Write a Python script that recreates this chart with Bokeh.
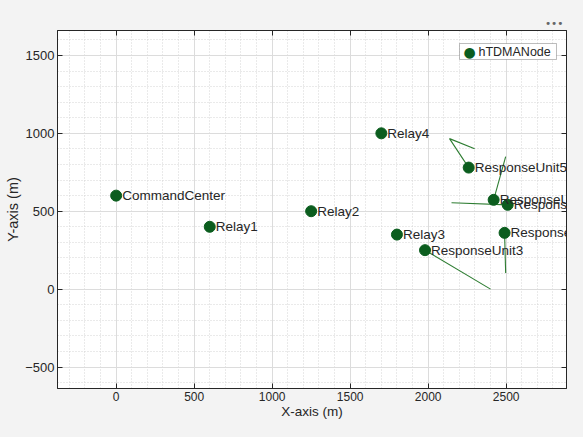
from bokeh.plotting import figure
from bokeh.models import (ColumnDataSource, Range1d, LinearAxis, Label, BoxAnnotation,
                          FixedTicker, GlobalInlineStyleSheet, Title)
from bokeh.core.properties import value
from bokeh.embed import file_html
from bokeh.resources import INLINE

# ---- data ----
node_names = ["CommandCenter", "Relay1", "Relay2", "Relay3", "Relay4",
              "ResponseUnit1", "ResponseUnit2", "ResponseUnit3", "ResponseUnit4", "ResponseUnit5"]
node_x = [0, 600, 1250, 1800, 1700, 2420, 2510, 1980, 2490, 2260]
node_y = [600, 400, 500, 350, 1000, 573, 541, 250, 361, 780]

path_xs = [[2260, 2137, 2298], [2420, 2497], [2510, 2150], [2490, 2497], [1980, 2400]]
path_ys = [[780, 966, 901], [573, 850], [541, 554], [361, 103], [250, 0]]

x_ticks = [0, 500, 1000, 1500, 2000, 2500]
y_ticks = [-500, 0, 500, 1000, 1500]
x_minor = list(range(-300, 2900, 100))
y_minor = list(range(-600, 1700, 100))
legend_label = "hTDMANode"
x_title = "X-axis (m)"
y_title = "Y-axis (m)"

BG = "#f3f3f3"
AX = "#262626"
NODE = "#0b5d1e"
PATH = "#2e7d32"
FONT = "Liberation Sans"

p = figure(width=567, height=421, output_backend="svg", toolbar_location=None,
           x_range=Range1d(-376, 2887), y_range=Range1d(-638, 1660),
           min_border_left=57, min_border_right=1, min_border_top=30, min_border_bottom=33,
           background_fill_color="white", border_fill_color=BG,
           outline_line_color=AX, outline_line_width=1)
p.stylesheets = [GlobalInlineStyleSheet(css=f"body {{ background: {BG}; }}")]

# axes styling
for ax in (p.xaxis[0], p.yaxis[0]):
    ax.major_tick_in = 5
    ax.major_tick_out = 0
    ax.minor_tick_in = 0
    ax.minor_tick_out = 0
    ax.axis_line_color = AX
    ax.major_tick_line_color = AX
    ax.major_label_text_color = AX
    ax.major_label_text_font = FONT
    ax.axis_label_text_color = AX
    ax.axis_label_text_font = FONT
    ax.axis_label_text_font_style = "normal"

p.xaxis[0].ticker = FixedTicker(ticks=x_ticks, minor_ticks=x_minor)
p.yaxis[0].ticker = FixedTicker(ticks=y_ticks, minor_ticks=y_minor)
p.xaxis[0].axis_label = x_title
p.yaxis[0].axis_label = y_title
p.xaxis[0].major_label_text_font_size = "12px"
p.xaxis[0].axis_label_text_font_size = "13.5px"
p.xaxis[0].major_label_standoff = 3
p.xaxis[0].axis_label_standoff = 0
p.yaxis[0].major_label_text_font_size = "13px"
p.yaxis[0].axis_label_text_font_size = "14.5px"
p.yaxis[0].major_label_standoff = 3
p.yaxis[0].axis_label_standoff = 1

# box axes on top and right
for loc, tk in (("above", x_ticks), ("right", y_ticks)):
    a = LinearAxis(ticker=FixedTicker(ticks=tk), major_tick_in=5, major_tick_out=0,
                   minor_tick_in=0, minor_tick_out=0, axis_line_color=AX,
                   major_tick_line_color=AX, major_label_standoff=0,
                   major_label_overrides={t: "" for t in tk})
    p.add_layout(a, loc)

# toolbar-like dots above the axes, right aligned
p.add_layout(Title(text="•••", align="right", text_font="DejaVu Sans",
                   text_font_size="10.5px", text_color="#666666",
                   text_font_style="normal", offset=3, standoff=4), "above")

# grids
p.xgrid.ticker = FixedTicker(ticks=x_ticks, minor_ticks=x_minor)
p.ygrid.ticker = FixedTicker(ticks=y_ticks, minor_ticks=y_minor)
for g in (p.xgrid[0], p.ygrid[0]):
    g.grid_line_color = "#dcdcdc"
    g.grid_line_width = 1
    g.minor_grid_line_color = "#d4d4d4"
    g.minor_grid_line_dash = "1 2"
    g.minor_grid_line_width = 1

# paths
p.multi_line(xs=path_xs, ys=path_ys, line_color=PATH, line_width=1.1)

# nodes
src = ColumnDataSource(dict(x=node_x, y=node_y, name=node_names))
p.scatter("x", "y", source=src, size=11, fill_color=NODE, line_color=NODE)
p.text("x", "y", text="name", source=src, x_offset=6, text_baseline="middle",
       text_font=value(FONT), text_font_size="13.5px", text_color=AX)

# legend (drawn manually to get a full-size marker); screen units from frame bottom-left
p.add_layout(BoxAnnotation(left=402, right=499, top=345, bottom=329,
                           left_units="screen", right_units="screen",
                           top_units="screen", bottom_units="screen",
                           fill_color="white", fill_alpha=1, line_color=AX, line_width=1))
p.add_layout(Label(x=412, y=337, x_units="screen", y_units="screen", text="●",
                   text_color=NODE, text_font="DejaVu Sans", text_font_size="14px",
                   text_align="center", text_baseline="middle"))
p.add_layout(Label(x=421, y=337, x_units="screen", y_units="screen", text=legend_label,
                   text_color=AX, text_font=FONT, text_font_size="12.5px",
                   text_baseline="middle"))

open("out.html", "w").write(file_html(p, INLINE))
